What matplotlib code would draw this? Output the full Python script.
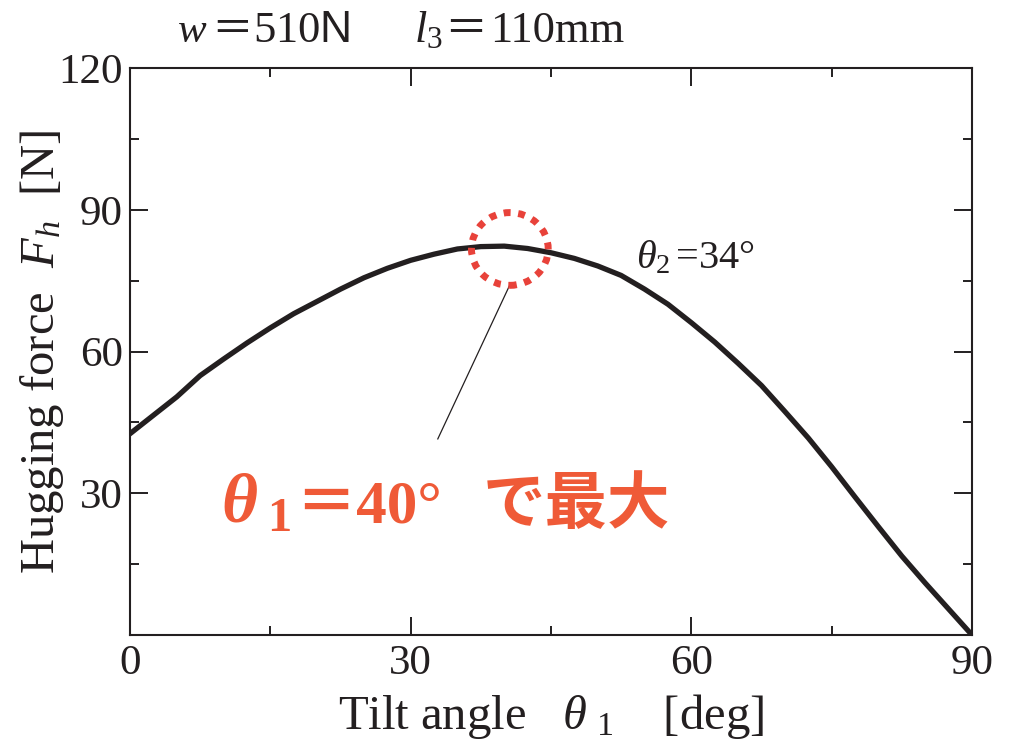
import matplotlib
matplotlib.use("Agg")
import matplotlib.pyplot as plt
from matplotlib.patches import Ellipse
import numpy as np

plt.rcParams['font.family'] = ['Liberation Serif', 'Noto Sans CJK JP']
plt.rcParams['mathtext.fontset'] = 'custom'
plt.rcParams['mathtext.rm'] = 'Liberation Serif'
plt.rcParams['mathtext.it'] = 'Liberation Serif:italic'
plt.rcParams['mathtext.bf'] = 'Liberation Serif:bold'
plt.rcParams['mathtext.bfit'] = 'Liberation Serif:italic:bold'
plt.rcParams['mathtext.sf'] = 'Liberation Sans'

# 抱き上げ力 Fh [N] vs 傾斜角 θ1 [deg]  (θ2 = 34°, w = 510 N, l3 = 110 mm)
tilt = [0, 2.5, 5, 7.5, 10, 12.5, 15, 17.5, 20, 22.5, 25, 27.5, 30, 32.5, 35,
        37.5, 40, 42.5, 45, 47.5, 50, 52.5, 55, 57.5, 60, 62.5, 65, 67.5, 70,
        72.5, 75, 77.5, 80, 82.5, 85, 87.5, 90]
force = [42.6, 46.5, 50.4, 54.9, 58.4, 61.8, 65.0, 68.0, 70.6, 73.2, 75.6,
         77.6, 79.3, 80.6, 81.7, 82.2, 82.3, 81.8, 80.9, 79.7, 78.1, 76.1,
         73.2, 70.0, 66.1, 62.0, 57.5, 52.8, 47.3, 41.7, 35.6, 29.2, 22.9,
         16.7, 11.0, 5.5, 0.0]

peak_angle = 40
xticks = [0, 30, 60, 90]
yticks = [0, 30, 60, 90, 120]
ytick_labels = ['', '30', '60', '90', '120']

ink = '#231f20'
red_text = '#ef5a37'
red_ring = '#e8423a'

fig = plt.figure(figsize=(10.15, 7.5), dpi=100)
ax = fig.add_axes([130 / 1015, 1 - 635 / 750, 842 / 1015, 567 / 750])

ax.plot(tilt, force, color=ink, lw=3.8, solid_joinstyle='round', zorder=3)

ax.set_xlim(0, 90)
ax.set_ylim(0, 120)
ax.set_xticks(xticks)
ax.set_xticks([15, 45, 75], minor=True)
ax.set_yticks(yticks)
ax.set_yticklabels(ytick_labels)
ax.set_yticks([15, 45, 75, 105], minor=True)
ax.tick_params(which='both', direction='in', top=True, right=True,
               width=1.4, color=ink, labelcolor=ink, labelsize=31)
ax.tick_params(which='major', length=13)
ax.tick_params(which='minor', length=6.5)
ax.tick_params(axis='x', pad=7)
ax.tick_params(axis='y', pad=5)
for s in ax.spines.values():
    s.set_linewidth(1.5)
    s.set_color(ink)

ax.set_xlabel(r'Tilt angle   $\theta\;{}_{\mathit{1}}$    [deg]', fontsize=35, color=ink)
ax.xaxis.set_label_coords(0.5, -0.1)
ax.set_ylabel(r'Hugging force  $F_{h}$  [N]', fontsize=35, color=ink, va='center')
ax.yaxis.set_label_coords(-0.105, 0.5)

# 最大点の丸印と引き出し線
peak_force = force[tilt.index(peak_angle)]
ring = Ellipse((peak_angle + 0.6, peak_force - 0.6), width=8.2, height=15.4,
               fill=False, ec=red_ring, lw=5, linestyle=(0, (1, 1.1)), zorder=4)
ax.add_patch(ring)
ax.plot([peak_angle + 0.6, 32.9], [peak_force - 8.2, 41.5], color=ink, lw=0.9, zorder=2)

ax.text(54.1, 77.6, r'$\theta_{\mathit{2}}\,$=34°', fontsize=29, color=ink,
        ha='left', va='baseline')

# 赤い注記
ax.text(9.7, 23.8, r'$\mathbfit{\theta}_{\;\mathbf{1}}$', fontsize=50, color=red_text,
        ha='left', va='baseline')
ax.text(17.6, 23.8, '＝40°', fontsize=44, color=red_text, weight='bold',
        ha='left', va='baseline')
ax.text(37.7, 23.8, 'で最大', fontsize=45, color=red_text, weight='bold',
        ha='left', va='baseline')

# 条件
y_top = 1 - 42 / 750
fig.text(177 / 1015, y_top, r'$w$', fontsize=31, color=ink, va='baseline')
fig.text(211 / 1015, y_top, '＝', fontsize=30, color=ink, va='baseline',
         family='Noto Sans CJK JP')
fig.text(253 / 1015, y_top, r'510$\mathsf{N}$', fontsize=32, color=ink, va='baseline')
fig.text(414 / 1015, y_top, r'$l_{\mathit{3}}$', fontsize=32, color=ink, va='baseline')
fig.text(444 / 1015, y_top, '＝', fontsize=31, color=ink, va='baseline',
         family='Noto Sans CJK JP')
fig.text(490 / 1015, y_top, '110mm', fontsize=32, color=ink, va='baseline')

fig.savefig('out.png', dpi=100)
